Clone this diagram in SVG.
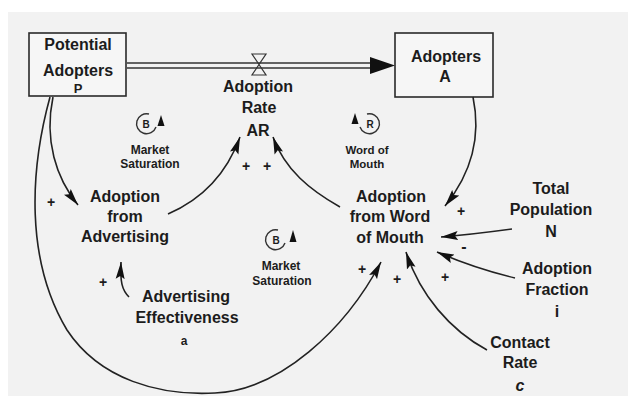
<svg xmlns="http://www.w3.org/2000/svg" width="630" height="408" viewBox="0 0 630 408">
<defs>
<style>
.t{font-family:"Liberation Sans",Arial,Helvetica,sans-serif;font-weight:bold;fill:#1c1c1c;text-anchor:middle;}
.n{font-size:16px;}
.s{font-size:12px;}
.p{font-size:14px;}
.box{fill:#f6f6f6;stroke:#2a2a2a;stroke-width:1.6;}
.c{fill:none;stroke:#222;stroke-width:1.6;}
.pipe{stroke:#333;stroke-width:1.4;fill:none;}
.loop{fill:none;stroke:#333;stroke-width:1.4;}
.ah{fill:#111;}
</style>
<marker id="arr" markerUnits="userSpaceOnUse" markerWidth="18" markerHeight="10" refX="17" refY="5" orient="auto">
<path d="M0,0.5 L17,5 L0,9.5 L3,5 z" fill="#111"/>
</marker>
</defs>
<rect x="0" y="0" width="630" height="408" fill="#ffffff"/>
<rect x="8" y="12" width="620" height="384" fill="#f2f2f2"/>

<g id="pipe">
<line class="pipe" x1="127" y1="63" x2="372" y2="63"/>
<line class="pipe" x1="127" y1="68" x2="372" y2="68"/>
<polygon class="ah" points="370,57 395,65.5 370,74"/>
<polygon points="252,54 266,54 259,64.5 266,75 252,75 259,64.5" fill="none" stroke="#333" stroke-width="1.2"/>
</g>

<g id="potential-adopters">
<rect class="box" x="29" y="33" width="97" height="63"/>
<text class="t n" x="78" y="50">Potential</text>
<text class="t n" x="78" y="76">Adopters</text>
<text class="t" style="font-size:13px" x="78" y="93">P</text>
</g>

<g id="adopters">
<rect class="box" x="395" y="33" width="98" height="64"/>
<text class="t n" x="446" y="62">Adopters</text>
<text class="t n" x="445" y="82">A</text>
</g>

<g id="adoption-rate">
<text class="t n" x="258" y="92">Adoption</text>
<text class="t n" x="259" y="113">Rate</text>
<text class="t n" x="258" y="136">AR</text>
</g>

<g id="adoption-from-advertising">
<text class="t n" x="125" y="202">Adoption</text>
<text class="t n" x="125" y="222">from</text>
<text class="t n" x="125" y="242">Advertising</text>
</g>

<g id="adoption-from-word-of-mouth">
<text class="t n" x="391" y="202">Adoption</text>
<text class="t n" x="390" y="222">from Word</text>
<text class="t n" x="390" y="243">of Mouth</text>
</g>

<g id="advertising-effectiveness">
<text class="t n" x="186" y="302">Advertising</text>
<text class="t n" x="187" y="323">Effectiveness</text>
<text class="t" style="font-size:12px" x="184" y="345">a</text>
</g>

<g id="total-population">
<text class="t n" x="551" y="194">Total</text>
<text class="t n" x="551" y="215">Population</text>
<text class="t n" x="551" y="237">N</text>
</g>

<g id="adoption-fraction">
<text class="t n" x="557" y="274">Adoption</text>
<text class="t n" x="557" y="295">Fraction</text>
<text class="t n" x="557" y="317">i</text>
</g>

<g id="contact-rate">
<text class="t n" x="520" y="348">Contact</text>
<text class="t n" x="520" y="368">Rate</text>
<text class="t n" style="font-style:italic" x="520" y="391">c</text>
</g>

<g id="loop-b1">
<path class="loop" d="M 149 114 A 10 10 0 1 0 156 127"/>
<polygon class="ah" points="161,115 164.5,126 157.5,126"/>
<text class="t" style="font-size:10px" x="146" y="128">B</text>
<text class="t s" x="150" y="154">Market</text>
<text class="t s" x="150" y="168">Saturation</text>
</g>

<g id="loop-r">
<path class="loop" d="M 367 114 A 10 10 0 1 1 360 127"/>
<polygon class="ah" points="355,113 358.5,124 351.5,124"/>
<text class="t" style="font-size:10px" x="370" y="128">R</text>
<text class="t" style="font-size:11.5px" x="367" y="154">Word of</text>
<text class="t" style="font-size:11.5px" x="367" y="168">Mouth</text>
</g>

<g id="loop-b2">
<path class="loop" d="M 278 230 A 10 10 0 1 0 285 243"/>
<polygon class="ah" points="293,230 296.5,242 289.5,242"/>
<text class="t" style="font-size:10px" x="276" y="244">B</text>
<text class="t s" x="281" y="270">Market</text>
<text class="t s" x="282" y="285">Saturation</text>
</g>

<g id="connectors">
<path class="c" d="M 53 97 C 44 140, 56 178, 78 205" marker-end="url(#arr)"/>
<path class="c" d="M 50 97 C 30 170, 25 260, 67 330 C 100 380, 160 396, 215 393 C 280 390, 345 330, 381 262" marker-end="url(#arr)"/>
<path class="c" d="M 168 214 C 205 198, 228 170, 240 137" marker-end="url(#arr)"/>
<path class="c" d="M 340 207 C 310 190, 285 170, 273 137" marker-end="url(#arr)"/>
<path class="c" d="M 473 97 C 482 140, 470 175, 445 206" marker-end="url(#arr)"/>
<path class="c" d="M 512 229 C 490 232, 465 235, 441 237" marker-end="url(#arr)"/>
<path class="c" d="M 515 278 C 490 272, 460 262, 437 252" marker-end="url(#arr)"/>
<path class="c" d="M 487 350 C 450 330, 420 295, 406 252" marker-end="url(#arr)"/>
<path class="c" d="M 129 297 C 122 290, 120 282, 121 262" marker-end="url(#arr)"/>
</g>

<g id="polarities">
<text class="t p" x="51" y="207">+</text>
<text class="t p" x="103" y="287">+</text>
<text class="t p" x="246" y="171">+</text>
<text class="t p" x="267" y="171">+</text>
<text class="t p" x="461" y="216">+</text>
<text class="t p" x="362" y="274">+</text>
<text class="t p" x="397" y="284">+</text>
<text class="t p" x="445" y="282">+</text>
<text class="t" style="font-size:16px" x="464" y="252">-</text>
</g>
</svg>
